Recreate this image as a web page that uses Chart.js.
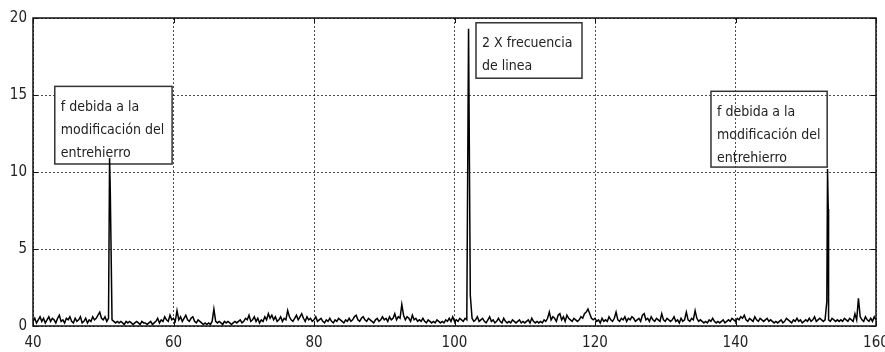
<!DOCTYPE html>
<html>
<head>
<meta charset="utf-8">
<script src="https://cdn.jsdelivr.net/npm/chart.js@4.4.0/dist/chart.umd.min.js"></script>
<style>
  html, body { margin: 0; padding: 0; background: #fff; }
  #wrap { width: 885px; height: 352px; }
</style>
</head>
<body>
<div id="wrap"><canvas id="spec" width="885" height="352"></canvas></div>
<script>
// Spectrum: noise floor sampled every 0.25 from 40 to 160
var noiseStart = 40;
var noiseStep = 0.25;
var noise = [
  0.3,0.5,0.2,0.4,0.6,0.3,0.5,0.2,0.4,0.6,0.3,0.5,0.4,0.2,0.5,0.7,0.3,0.4,0.2,0.5, // 40
  0.4,0.6,0.3,0.2,0.5,0.3,0.4,0.6,0.2,0.3,0.5,0.2,0.4,0.3,0.6,0.4,0.5,0.7,0.9,0.5, // 45
  0.4,0.6,0.3,0.5,0.9,0.4,0.3,0.2,0.3,0.2,0.3,0.2,0.1,0.3,0.2,0.3,0.2,0.1,0.2,0.3, // 50
  0.2,0.1,0.3,0.2,0.2,0.1,0.2,0.3,0.1,0.2,0.3,0.5,0.2,0.4,0.3,0.6,0.4,0.3,0.7,0.4, // 55
  0.5,0.3,1.0,0.4,0.6,0.3,0.5,0.7,0.4,0.3,0.5,0.6,0.3,0.2,0.4,0.3,0.2,0.1,0.2,0.1, // 60
  0.2,0.1,0.3,1.1,0.3,0.2,0.3,0.2,0.1,0.3,0.2,0.3,0.2,0.1,0.2,0.3,0.2,0.3,0.4,0.2, // 65
  0.3,0.5,0.4,0.7,0.3,0.4,0.6,0.3,0.5,0.2,0.4,0.3,0.6,0.4,0.8,0.5,0.7,0.4,0.6,0.3, // 70
  0.4,0.6,0.3,0.5,0.4,1.0,0.6,0.4,0.3,0.5,0.7,0.4,0.6,0.8,0.5,0.3,0.6,0.4,0.5,0.3, // 75
  0.4,0.6,0.3,0.4,0.5,0.3,0.2,0.4,0.3,0.5,0.3,0.2,0.4,0.3,0.5,0.4,0.3,0.2,0.4,0.3, // 80
  0.5,0.3,0.4,0.6,0.7,0.4,0.3,0.5,0.6,0.4,0.3,0.5,0.4,0.3,0.2,0.4,0.5,0.3,0.4,0.6, // 85
  0.4,0.5,0.3,0.6,0.4,0.5,0.8,0.4,0.6,0.5,1.4,0.7,0.4,0.6,0.5,0.3,0.7,0.4,0.5,0.3, // 90
  0.4,0.3,0.5,0.3,0.2,0.4,0.3,0.2,0.3,0.2,0.4,0.3,0.2,0.3,0.2,0.4,0.3,0.5,0.3,0.6, // 95
  0.3,0.4,0.3,0.5,0.4,0.3,0.5,0.4,0.4,2.0,0.5,0.3,0.4,0.6,0.3,0.4,0.5,0.3,0.2,0.4, // 100
  0.6,0.3,0.4,0.2,0.3,0.5,0.3,0.2,0.5,0.3,0.2,0.3,0.2,0.4,0.3,0.2,0.3,0.4,0.2,0.3, // 105
  0.2,0.3,0.4,0.2,0.5,0.3,0.2,0.3,0.2,0.3,0.2,0.4,0.3,0.5,0.9,0.4,0.6,0.5,0.3,0.7, // 110
  0.8,0.4,0.6,0.3,0.7,0.5,0.4,0.3,0.5,0.4,0.3,0.4,0.6,0.5,0.8,0.9,1.1,0.8,0.5,0.4, // 115
  0.5,0.3,0.4,0.2,0.5,0.3,0.4,0.3,0.6,0.4,0.3,0.5,0.9,0.4,0.3,0.5,0.4,0.6,0.3,0.5, // 120
  0.4,0.6,0.5,0.3,0.4,0.5,0.3,0.7,0.8,0.4,0.5,0.3,0.6,0.4,0.3,0.5,0.4,0.3,0.8,0.4, // 125
  0.3,0.5,0.4,0.3,0.4,0.6,0.3,0.4,0.2,0.5,0.3,0.4,0.9,0.4,0.3,0.5,0.4,1.0,0.5,0.3, // 130
  0.4,0.3,0.2,0.3,0.2,0.4,0.3,0.5,0.3,0.2,0.3,0.2,0.3,0.4,0.2,0.3,0.4,0.3,0.5,0.4, // 135
  0.3,0.5,0.4,0.6,0.5,0.7,0.4,0.3,0.5,0.4,0.3,0.6,0.4,0.3,0.5,0.4,0.3,0.4,0.5,0.3, // 140
  0.4,0.3,0.2,0.3,0.2,0.3,0.4,0.2,0.3,0.5,0.4,0.3,0.2,0.4,0.3,0.5,0.3,0.4,0.2,0.3, // 145
  0.4,0.3,0.5,0.3,0.4,0.6,0.3,0.4,0.5,0.4,0.3,0.4,1.6,0.4,0.3,0.5,0.4,0.3,0.4,0.3, // 150
  0.4,0.3,0.5,0.4,0.3,0.5,0.4,0.3,0.8,0.4,1.8,0.6,0.4,0.3,0.6,0.4,0.3,0.5,0.3,0.6, // 155
  0.4                                                                              // 160
];

// spectral lines (frequency, amplitude)
var peakFreqs = [50.9, 51.0, 102.0, 153.1, 153.2];
var peakAmps  = [10.9, 8.8, 19.3, 10.2, 7.6];

var xTicks = [40, 60, 80, 100, 120, 140, 160];
var yTicks = [0, 5, 10, 15, 20];

var notes = [
  { lines: ['f debida a la', 'modificación del', 'entrehierro'], x0: 43.1, x1: 59.8, y0: 15.56, y1: 10.52, fill: true },
  { lines: ['2 X frecuencia', 'de linea'], x0: 103.06, x1: 118.15, y0: 19.69, y1: 16.09, fill: true },
  { lines: ['f debida a la', 'modificación del', 'entrehierro'], x0: 136.51, x1: 153.05, y0: 15.24, y1: 10.32, fill: false }
];

// merge noise floor and spectral lines
var points = [];
noise.forEach(function (v, i) {
  var f = noiseStart + i * noiseStep;
  var clash = peakFreqs.some(function (p) { return Math.abs(p - f) < 0.05; });
  if (!clash) points.push({ x: f, y: v });
});
peakFreqs.forEach(function (f, i) { points.push({ x: f, y: peakAmps[i] }); });
points.sort(function (a, b) { return a.x - b.x; });

// pick a narrow face if one is installed
function hasFont(name) {
  var c = document.createElement('canvas').getContext('2d');
  c.font = '40px monospace';
  var w0 = c.measureText('mmmmwwwiiil 0123').width;
  c.font = '40px "' + name + '", monospace';
  return c.measureText('mmmmwwwiiil 0123').width !== w0;
}
var FONT = 'Liberation Sans';
var FSIZE = 13;
['Liberation Sans Narrow', 'DejaVu Sans Condensed', 'Roboto Condensed'].some(function (f) {
  if (hasFont(f)) { FONT = f; FSIZE = 14; return true; }
  return false;
});
var FAMILY = "'" + FONT + "', 'Liberation Sans', Arial, sans-serif";

var matlabFrame = {
  id: 'matlabFrame',
  beforeDatasetsDraw: function (chart) {
    var ctx = chart.ctx, xs = chart.scales.x, ys = chart.scales.y;
    ctx.save();
    notes.forEach(function (n) {
      var l = xs.getPixelForValue(n.x0), r = xs.getPixelForValue(n.x1);
      var t = ys.getPixelForValue(n.y0), b = ys.getPixelForValue(n.y1);
      if (n.fill) { ctx.fillStyle = '#fff'; ctx.fillRect(l, t, r - l, b - t); }
      ctx.strokeStyle = '#333';
      ctx.lineWidth = 1.5;
      ctx.strokeRect(l, t, r - l, b - t);
      ctx.fillStyle = '#222';
      ctx.font = FSIZE + 'px ' + FAMILY;
      ctx.textBaseline = 'middle';
      n.lines.forEach(function (s, k) { ctx.fillText(s, l + 6, t + 21 + k * 23, r - l - 9); });
    });
    ctx.restore();
  },
  afterDraw: function (chart) {
    var ctx = chart.ctx, a = chart.chartArea, xs = chart.scales.x, ys = chart.scales.y;
    ctx.save();
    ctx.strokeStyle = '#111';
    ctx.lineWidth = 1.5;
    ctx.strokeRect(a.left, a.top, a.right - a.left, a.bottom - a.top);
    ctx.lineWidth = 1;
    ctx.beginPath();
    xTicks.forEach(function (v) {
      var px = Math.round(xs.getPixelForValue(v)) + 0.5;
      ctx.moveTo(px, a.bottom); ctx.lineTo(px, a.bottom - 5);
      ctx.moveTo(px, a.top); ctx.lineTo(px, a.top + 5);
    });
    yTicks.forEach(function (v) {
      var py = Math.round(ys.getPixelForValue(v)) + 0.5;
      ctx.moveTo(a.left, py); ctx.lineTo(a.left + 5, py);
      ctx.moveTo(a.right, py); ctx.lineTo(a.right - 5, py);
    });
    ctx.stroke();
    ctx.restore();
  }
};

new Chart(document.getElementById('spec').getContext('2d'), {
  type: 'line',
  data: {
    datasets: [{
      data: points,
      borderColor: '#000',
      borderWidth: 1.5,
      pointRadius: 0,
      tension: 0,
      fill: false
    }]
  },
  options: {
    responsive: false,
    animation: false,
    events: [],
    layout: { padding: { top: 18, right: 9, left: 0, bottom: 0 } },
    plugins: { legend: { display: false }, tooltip: { enabled: false } },
    scales: {
      x: {
        type: 'linear',
        min: 40,
        max: 160,
        afterBuildTicks: function (s) { s.ticks = xTicks.map(function (v) { return { value: v }; }); },
        afterFit: function (s) { s.height = 26; s.paddingRight = 0; s.paddingLeft = 0; },
        ticks: { color: '#222', padding: 8, maxRotation: 0, autoSkip: false, font: { family: FAMILY, size: 15 } },
        grid: { color: 'rgba(0,0,0,0.7)', lineWidth: 1, drawTicks: false },
        border: { display: false, dash: [2, 2] }
      },
      y: {
        type: 'linear',
        min: 0,
        max: 20,
        afterBuildTicks: function (s) { s.ticks = yTicks.map(function (v) { return { value: v }; }); },
        afterFit: function (s) { s.width = 33; s.paddingTop = 0; s.paddingBottom = 0; },
        ticks: { color: '#222', padding: 6, font: { family: FAMILY, size: 15 } },
        grid: { color: 'rgba(0,0,0,0.7)', lineWidth: 1, drawTicks: false },
        border: { display: false, dash: [2, 2] }
      }
    }
  },
  plugins: [matlabFrame]
});
</script>
</body>
</html>
